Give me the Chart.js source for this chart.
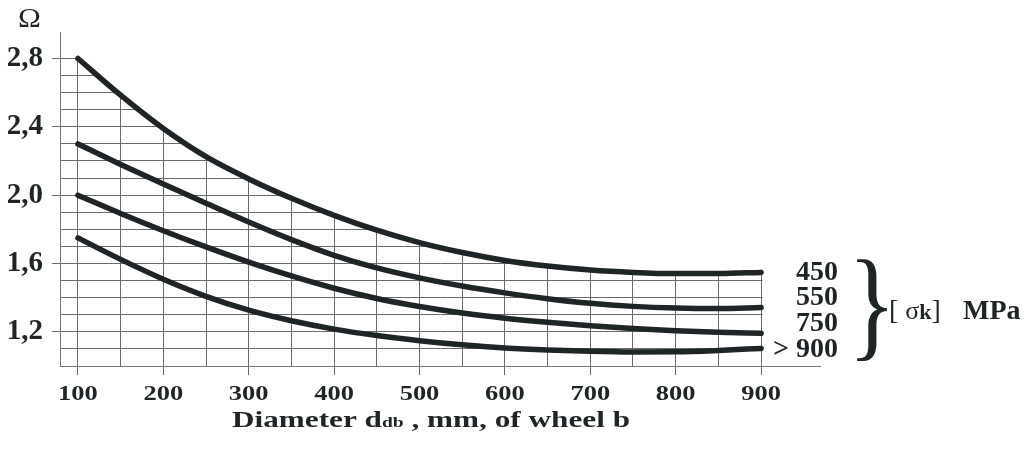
<!DOCTYPE html>
<html>
<head>
<meta charset="utf-8">
<script src="https://cdn.jsdelivr.net/npm/chart.js@4.4.1/dist/chart.umd.min.js"></script>
<style>
  html, body { margin: 0; padding: 0; background: #fff; }
  canvas { display: block; }
</style>
</head>
<body>
<canvas id="chart" width="1029" height="461"></canvas>
<script>
// wheel diameter, mm
const diameters = [100, 150, 200, 250, 300, 350, 400, 450, 500, 550, 600, 650, 700, 750, 800, 850, 900];
// Omega for each allowed stress [σk], MPa
const omega450 = [2.80, 2.585, 2.39, 2.225, 2.095, 1.982, 1.882, 1.795, 1.722, 1.664, 1.618, 1.585, 1.562, 1.548, 1.541, 1.541, 1.548];
const omega550 = [2.30, 2.18, 2.065, 1.953, 1.843, 1.74, 1.648, 1.574, 1.516, 1.468, 1.428, 1.394, 1.367, 1.349, 1.339, 1.336, 1.342];
const omega750 = [2.00, 1.893, 1.792, 1.697, 1.608, 1.527, 1.455, 1.395, 1.348, 1.31, 1.28, 1.256, 1.236, 1.219, 1.206, 1.197, 1.191];
const omega900 = [1.75, 1.624, 1.508, 1.408, 1.327, 1.265, 1.216, 1.178, 1.148, 1.124, 1.106, 1.094, 1.086, 1.082, 1.083, 1.091, 1.103];
const seriesNames = ['450', '550', '750', '> 900'];

const xGridValues = [100, 150, 200, 250, 300, 350, 400, 450, 500, 550, 600, 650, 700, 750, 800, 850, 900];
const xTickLabels = [100, 200, 300, 400, 500, 600, 700, 800, 900];
const yGridValues = [1.0, 1.1, 1.2, 1.3, 1.4, 1.5, 1.6, 1.7, 1.8, 1.9, 2.0, 2.1, 2.2, 2.3, 2.4, 2.5, 2.6, 2.7, 2.8];
const yTickLabels = [1.2, 1.6, 2.0, 2.4, 2.8];

const serif = '"Liberation Serif", "Times New Roman", serif';
const ink = '#1f2526';
const gridColor = '#6a6a6a';

const isLabelY = v => yTickLabels.some(t => Math.abs(t - v) < 1e-6);
const isLabelX = v => xTickLabels.includes(v);

function toPoints(vals) {
  return diameters.map((d, i) => ({ x: d, y: vals[i] }));
}

// hide grid above the top curve, like the printed nomogram
const gridMask = {
  id: 'gridMask',
  beforeDatasetsDraw(chart) {
    const { ctx, chartArea: a, scales: { x, y } } = chart;
    const x0 = x.getPixelForValue(diameters[0]);
    const x1 = x.getPixelForValue(diameters[diameters.length - 1]);
    const yStart = y.getPixelForValue(omega450[0]);
    const yEnd = y.getPixelForValue(omega450[omega450.length - 1]);
    ctx.save();
    ctx.fillStyle = '#fff';
    ctx.fillRect(a.left + 1, a.top - 1, x0 - a.left + 2, yStart - 1.5 - a.top + 1);
    ctx.fillRect(x1 - 3, a.top - 1, a.right - x1 + 4, yEnd - 3 - a.top + 1);
    ctx.fillRect(x1 + 1.5, a.top - 1, a.right - x1, a.bottom - a.top);
    ctx.restore();
  }
};

function stretchText(ctx, text, x, y, sx, align) {
  ctx.save();
  ctx.translate(x, y);
  ctx.scale(sx, 1);
  ctx.textAlign = align;
  ctx.fillText(text, 0, 0);
  ctx.restore();
}

const labels = {
  id: 'labels',
  afterDraw(chart) {
    const { ctx, scales: { x } } = chart;
    ctx.save();
    ctx.fillStyle = ink;
    ctx.textBaseline = 'alphabetic';

    // x tick labels (wide print)
    ctx.font = 'bold 21px ' + serif;
    xTickLabels.forEach(v => stretchText(ctx, String(v), x.getPixelForValue(v), 400, 1.26, 'center'));

    // x axis title with subscript
    const parts = [
      { t: 'Diameter d', f: 'bold 24px ' + serif },
      { t: 'db', f: 'bold 15px ' + serif },
      { t: ' , mm, of wheel b', f: 'bold 24px ' + serif }
    ];
    let total = 0;
    parts.forEach(p => { ctx.font = p.f; p.w = ctx.measureText(p.t).width; total += p.w; });
    const sx = 398 / total;
    let cx = 232;
    parts.forEach(p => {
      ctx.font = p.f;
      stretchText(ctx, p.t, cx, 427, sx, 'left');
      cx += p.w * sx;
    });

    // y axis symbol
    ctx.font = '28px ' + serif;
    stretchText(ctx, 'Ω', 18, 27, 1.1, 'left');

    // curve names
    const xr = x.getPixelForValue(900) + 77;
    const baselines = [280, 305, 331, 357];
    ctx.font = 'bold 28px ' + serif;
    ctx.textAlign = 'right';
    seriesNames.forEach((n, i) => ctx.fillText(n, xr, baselines[i]));

    // brace fitted into its box
    ctx.font = '100px ' + serif;
    ctx.textAlign = 'left';
    const m = ctx.measureText('}');
    const gw = m.actualBoundingBoxLeft + m.actualBoundingBoxRight;
    const gh = m.actualBoundingBoxAscent + m.actualBoundingBoxDescent;
    ctx.save();
    ctx.translate(857, 259);
    ctx.scale(30 / gw, 102 / gh);
    ctx.fillText('}', m.actualBoundingBoxLeft, m.actualBoundingBoxAscent);
    ctx.restore();

    // [σk]  MPa
    let bx = 889;
    const by = 319;
    const unit = [
      { t: '[ ', f: '28px ' + serif },
      { t: 'σ', f: '26px ' + serif },
      { t: 'k', f: 'bold 22px ' + serif },
      { t: ']', f: '28px ' + serif }
    ];
    unit.forEach(p => {
      ctx.font = p.f;
      ctx.fillText(p.t, bx, by);
      bx += ctx.measureText(p.t).width;
    });
    ctx.font = 'bold 28px ' + serif;
    ctx.fillText('MPa', 963, by);
    ctx.restore();
  }
};

const lineStyle = {
  borderColor: ink,
  borderWidth: 5.5,
  pointRadius: 0,
  cubicInterpolationMode: 'monotone',
  borderCapStyle: 'round',
  borderJoinStyle: 'round'
};

new Chart(document.getElementById('chart'), {
  type: 'line',
  data: {
    datasets: [
      { label: seriesNames[0], data: toPoints(omega450), ...lineStyle, fill: 'end', backgroundColor: '#fff' },
      { label: seriesNames[1], data: toPoints(omega550), ...lineStyle, fill: false },
      { label: seriesNames[2], data: toPoints(omega750), ...lineStyle, fill: false },
      { label: seriesNames[3], data: toPoints(omega900), ...lineStyle, fill: false }
    ]
  },
  options: {
    responsive: false,
    devicePixelRatio: 1,
    animation: false,
    layout: { padding: { left: 0, top: 32, right: 209, bottom: 0 } },
    plugins: { legend: { display: false }, tooltip: { enabled: false } },
    scales: {
      x: {
        type: 'linear',
        min: 79,
        max: 969,
        afterBuildTicks: s => { s.ticks = xGridValues.map(v => ({ value: v })); },
        afterFit: s => { s.height = 95; },
        ticks: { display: false, autoSkip: false },
        grid: {
          color: gridColor,
          lineWidth: 1,
          tickLength: 9,
          tickColor: c => (c.tick && isLabelX(c.tick.value)) ? gridColor : 'rgba(0,0,0,0)'
        },
        border: { color: '#777', width: 1 }
      },
      y: {
        type: 'linear',
        min: 1.0,
        max: 2.955,
        afterBuildTicks: s => { s.ticks = yGridValues.map(v => ({ value: v })); },
        afterFit: s => { s.width = 60; },
        ticks: {
          autoSkip: false,
          padding: 9,
          color: ink,
          font: { family: serif, size: 29, weight: 'bold' },
          callback: v => isLabelY(v) ? v.toFixed(1).replace('.', ',') : ''
        },
        grid: {
          color: gridColor,
          lineWidth: 1,
          tickLength: 8,
          tickColor: c => (c.tick && isLabelY(c.tick.value)) ? gridColor : 'rgba(0,0,0,0)'
        },
        border: { color: '#777', width: 1 }
      }
    }
  },
  plugins: [gridMask, labels]
});
</script>
</body>
</html>
